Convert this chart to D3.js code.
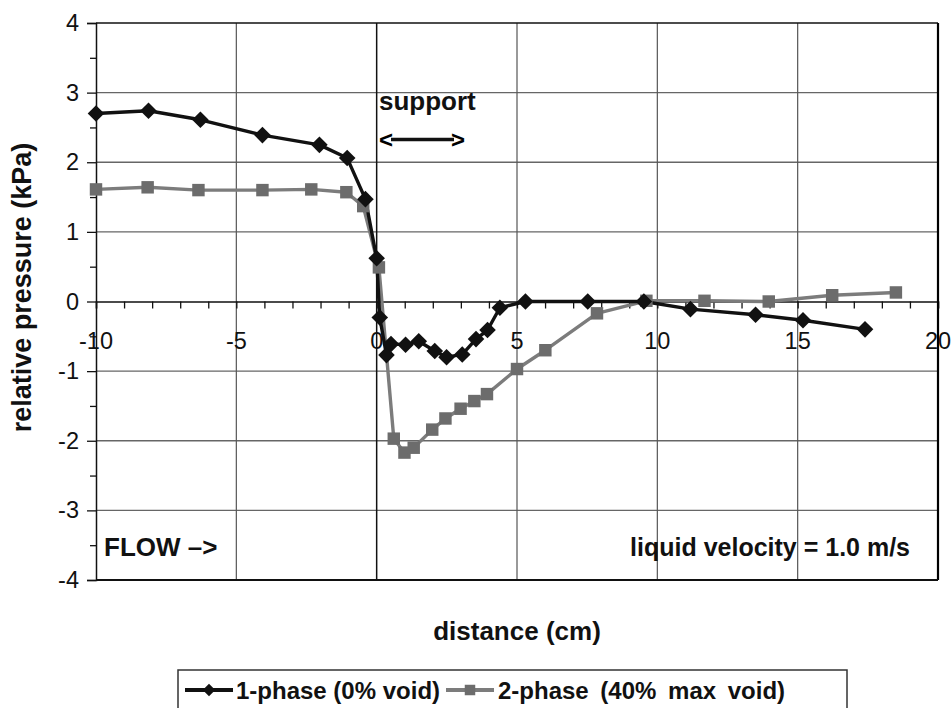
<!DOCTYPE html>
<html>
<head>
<meta charset="utf-8">
<script src="https://cdn.jsdelivr.net/npm/d3@7"></script>
<style>
  body { margin: 0; background: #fff; }
  text { font-family: "Liberation Sans", Arial, sans-serif; }
</style>
</head>
<body>
<div id="chart"></div>
<script>

// 1-phase (0% void)
let dist1 = [-10, -8.13, -6.28, -4.07, -2.04, -1.05, -0.40, 0.0, 0.11, 0.35, 0.51, 1.03, 1.50, 2.07, 2.49, 3.05, 3.54, 3.95, 4.39, 5.30, 7.52, 9.52, 11.18, 13.50, 15.19, 17.40]
let pres1 = [2.70, 2.74, 2.61, 2.39, 2.25, 2.06, 1.47, 0.62, -0.23, -0.77, -0.61, -0.62, -0.57, -0.71, -0.80, -0.76, -0.54, -0.41, -0.09, 0.0, 0.0, 0.0, -0.11, -0.19, -0.27, -0.40]

// 2-phase (40% max void)
let dist2 = [-10, -8.16, -6.35, -4.07, -2.33, -1.08, -0.48, 0.08, 0.61, 0.99, 1.32, 1.98, 2.45, 2.99, 3.48, 3.93, 5.0, 6.01, 7.85, 9.61, 11.68, 13.97, 16.23, 18.5]
let pres2 = [1.61, 1.64, 1.60, 1.60, 1.61, 1.57, 1.37, 0.49, -1.97, -2.17, -2.10, -1.84, -1.68, -1.54, -1.43, -1.33, -0.97, -0.70, -0.17, 0.01, 0.01, 0.0, 0.09, 0.13]

let xTicks = [-10, -5, 0, 5, 10, 15, 20]
let yTicks = [-4, -3, -2, -1, 0, 1, 2, 3, 4]

let seriesNames = ['1-phase (0% void)', '2-phase (40% max void)']

width = 952
height = 708
margin = ({top: 23, right: 14, bottom: 128, left: 96})

let x = d3.scaleLinear()
	.domain([-10, 20])
	.range([margin.left, width - margin.right])

let y = d3.scaleLinear()
	.domain([-4, 4])
	.range([height - margin.bottom, margin.top])

const svg = d3.select('#chart').append('svg')
	.attr('width', width)
	.attr('height', height)

svg.append('rect')
	.attr('width', width)
	.attr('height', height)
	.attr('fill', '#fff')

// grid
svg.append('g')
	.selectAll('line')
	.data(yTicks.filter(d => d > -4 && d < 4 && d != 0))
	.enter().append('line')
	.attr('x1', x(-10)).attr('x2', x(20))
	.attr('y1', d => y(d)).attr('y2', d => y(d))
	.attr('stroke', '#666')
	.attr('stroke-width', 1.3)

svg.append('g')
	.selectAll('line')
	.data(xTicks.filter(d => d > -10 && d < 20))
	.enter().append('line')
	.attr('x1', d => x(d)).attr('x2', d => x(d))
	.attr('y1', y(4)).attr('y2', y(-4))
	.attr('stroke', d => d == 0 ? '#111' : '#555')
	.attr('stroke-width', d => d == 0 ? 1.5 : 1.2)

// x axis sits on y = 0, minor ticks every 1 cm
let xAxis = d3.axisBottom(x)
	.tickValues(d3.range(-10, 21, 1))
	.tickSize(7)
	.tickFormat('')

svg.append('g')
	.attr('transform', `translate(0,${y(0)})`)
	.call(xAxis)
	.call(g => g.select('.domain').attr('stroke', '#111').attr('stroke-width', 1.5))
	.call(g => g.selectAll('.tick line').attr('stroke', '#111').attr('stroke-width', 1.3))

svg.append('g')
	.selectAll('text')
	.data(xTicks)
	.enter().append('text')
	.attr('x', d => x(d))
	.attr('y', y(0) + 47)
	.attr('text-anchor', 'middle')
	.attr('font-size', 23.5)
	.attr('fill', '#111')
	.text(d => d)

// y axis
let yAxis = d3.axisLeft(y)
	.tickValues(yTicks)
	.tickSize(9)
	.tickPadding(8)
	.tickFormat(d => d)

svg.append('g')
	.attr('transform', `translate(${x(-10)},0)`)
	.call(d3.axisLeft(y).tickValues(d3.range(-3.5, 4, 1)).tickSize(6).tickFormat(''))
	.call(g => g.select('.domain').remove())
	.call(g => g.selectAll('.tick line').attr('stroke', '#111').attr('stroke-width', 1.3))

svg.append('g')
	.attr('transform', `translate(${x(-10)},0)`)
	.call(yAxis)
	.call(g => g.select('.domain').attr('stroke', '#111').attr('stroke-width', 1.5))
	.call(g => g.selectAll('.tick line').attr('stroke', '#111').attr('stroke-width', 1.3))
	.call(g => g.selectAll('.tick text')
		.attr('font-size', 23.5)
		.attr('font-family', '"Liberation Sans", Arial, sans-serif')
		.attr('fill', '#111'))

// frame
svg.append('line')
	.attr('x1', x(-10)).attr('x2', x(20))
	.attr('y1', y(4)).attr('y2', y(4))
	.attr('stroke', '#111').attr('stroke-width', 1.5)
svg.append('line')
	.attr('x1', x(20)).attr('x2', x(20))
	.attr('y1', y(4)).attr('y2', y(-4))
	.attr('stroke', '#000').attr('stroke-width', 2.2)
svg.append('line')
	.attr('x1', x(-10)).attr('x2', x(20))
	.attr('y1', y(-4)).attr('y2', y(-4))
	.attr('stroke', '#111').attr('stroke-width', 2)

// series
let line = d3.line()
	.x(d => x(d[0]))
	.y(d => y(d[1]))

let pts1 = dist1.map((d, i) => [d, pres1[i]])
let pts2 = dist2.map((d, i) => [d, pres2[i]])

svg.append('path')
	.datum(pts2)
	.attr('fill', 'none')
	.attr('stroke', '#7c7c7c')
	.attr('stroke-width', 3.4)
	.attr('stroke-linejoin', 'round')
	.attr('d', line)

svg.append('path')
	.datum(pts1)
	.attr('fill', 'none')
	.attr('stroke', '#111')
	.attr('stroke-width', 3.4)
	.attr('stroke-linejoin', 'round')
	.attr('d', line)

let square = d3.symbol().type(d3.symbolSquare).size(155)
let diamond = d3.symbol().type(d3.symbolDiamond2).size(175)

svg.append('g')
	.selectAll('path')
	.data(pts2)
	.enter().append('path')
	.attr('transform', d => `translate(${x(d[0])},${y(d[1])})`)
	.attr('d', square)
	.attr('fill', '#6c6c6c')

svg.append('g')
	.selectAll('path')
	.data(pts1)
	.enter().append('path')
	.attr('transform', d => `translate(${x(d[0])},${y(d[1])})`)
	.attr('d', diamond)
	.attr('fill', '#111')

// annotations
svg.append('text')
	.attr('x', 379).attr('y', 110)
	.attr('font-size', 26).attr('font-weight', 'bold')
	.attr('fill', '#111')
	.text('support')

svg.append('text')
	.attr('x', 379).attr('y', 148)
	.attr('font-size', 24).attr('font-weight', 'bold')
	.text('<')
svg.append('line')
	.attr('x1', 391).attr('x2', 454)
	.attr('y1', 139.5).attr('y2', 139.5)
	.attr('stroke', '#111').attr('stroke-width', 3.5)
svg.append('text')
	.attr('x', 451).attr('y', 148)
	.attr('font-size', 24).attr('font-weight', 'bold')
	.text('>')

svg.append('text')
	.attr('x', 104).attr('y', 556)
	.attr('font-size', 26).attr('font-weight', 'bold')
	.attr('fill', '#111')
	.text('FLOW –>')

svg.append('text')
	.attr('x', 910).attr('y', 556)
	.attr('text-anchor', 'end')
	.attr('font-size', 25).attr('font-weight', 'bold')
	.attr('fill', '#111')
	.text('liquid velocity = 1.0 m/s')

// axis titles
svg.append('text')
	.attr('x', (x(-10) + x(20)) / 2)
	.attr('y', 640)
	.attr('text-anchor', 'middle')
	.attr('font-size', 26).attr('font-weight', 'bold')
	.attr('fill', '#111')
	.text('distance (cm)')

svg.append('text')
	.attr('transform', `translate(31,${(y(-4) + y(4)) / 2 - 14}) rotate(-90)`)
	.attr('text-anchor', 'middle')
	.attr('font-size', 27).attr('font-weight', 'bold')
	.attr('fill', '#111')
	.text('relative pressure (kPa)')

// legend
let legend = svg.append('g')

legend.append('rect')
	.attr('x', 178).attr('y', 670)
	.attr('width', 669).attr('height', 50)
	.attr('fill', '#fff')
	.attr('stroke', '#333').attr('stroke-width', 1.5)

let legendItems = [
	{name: seriesNames[0], x0: 185, tx: 236, ws: 0, color: '#111'},
	{name: seriesNames[1], x0: 446, tx: 498, ws: 5, color: '#7c7c7c'}
]

legendItems.forEach(function(it, i){

	legend.append('line')
		.attr('x1', it.x0).attr('x2', it.x0 + 48)
		.attr('y1', 690).attr('y2', 690)
		.attr('stroke', it.color).attr('stroke-width', 4)

	legend.append('path')
		.attr('transform', `translate(${it.x0 + 24},690)`)
		.attr('d', i == 0 ? d3.symbol().type(d3.symbolDiamond2).size(100) : d3.symbol().type(d3.symbolSquare).size(110))
		.attr('fill', i == 0 ? '#111' : '#6c6c6c')

	legend.append('text')
		.attr('x', it.tx).attr('y', 699)
		.attr('font-size', 24).attr('font-weight', 'bold')
		.attr('fill', '#111')
		.attr('word-spacing', it.ws)
		.text(it.name)
})

</script>
</body>
</html>
